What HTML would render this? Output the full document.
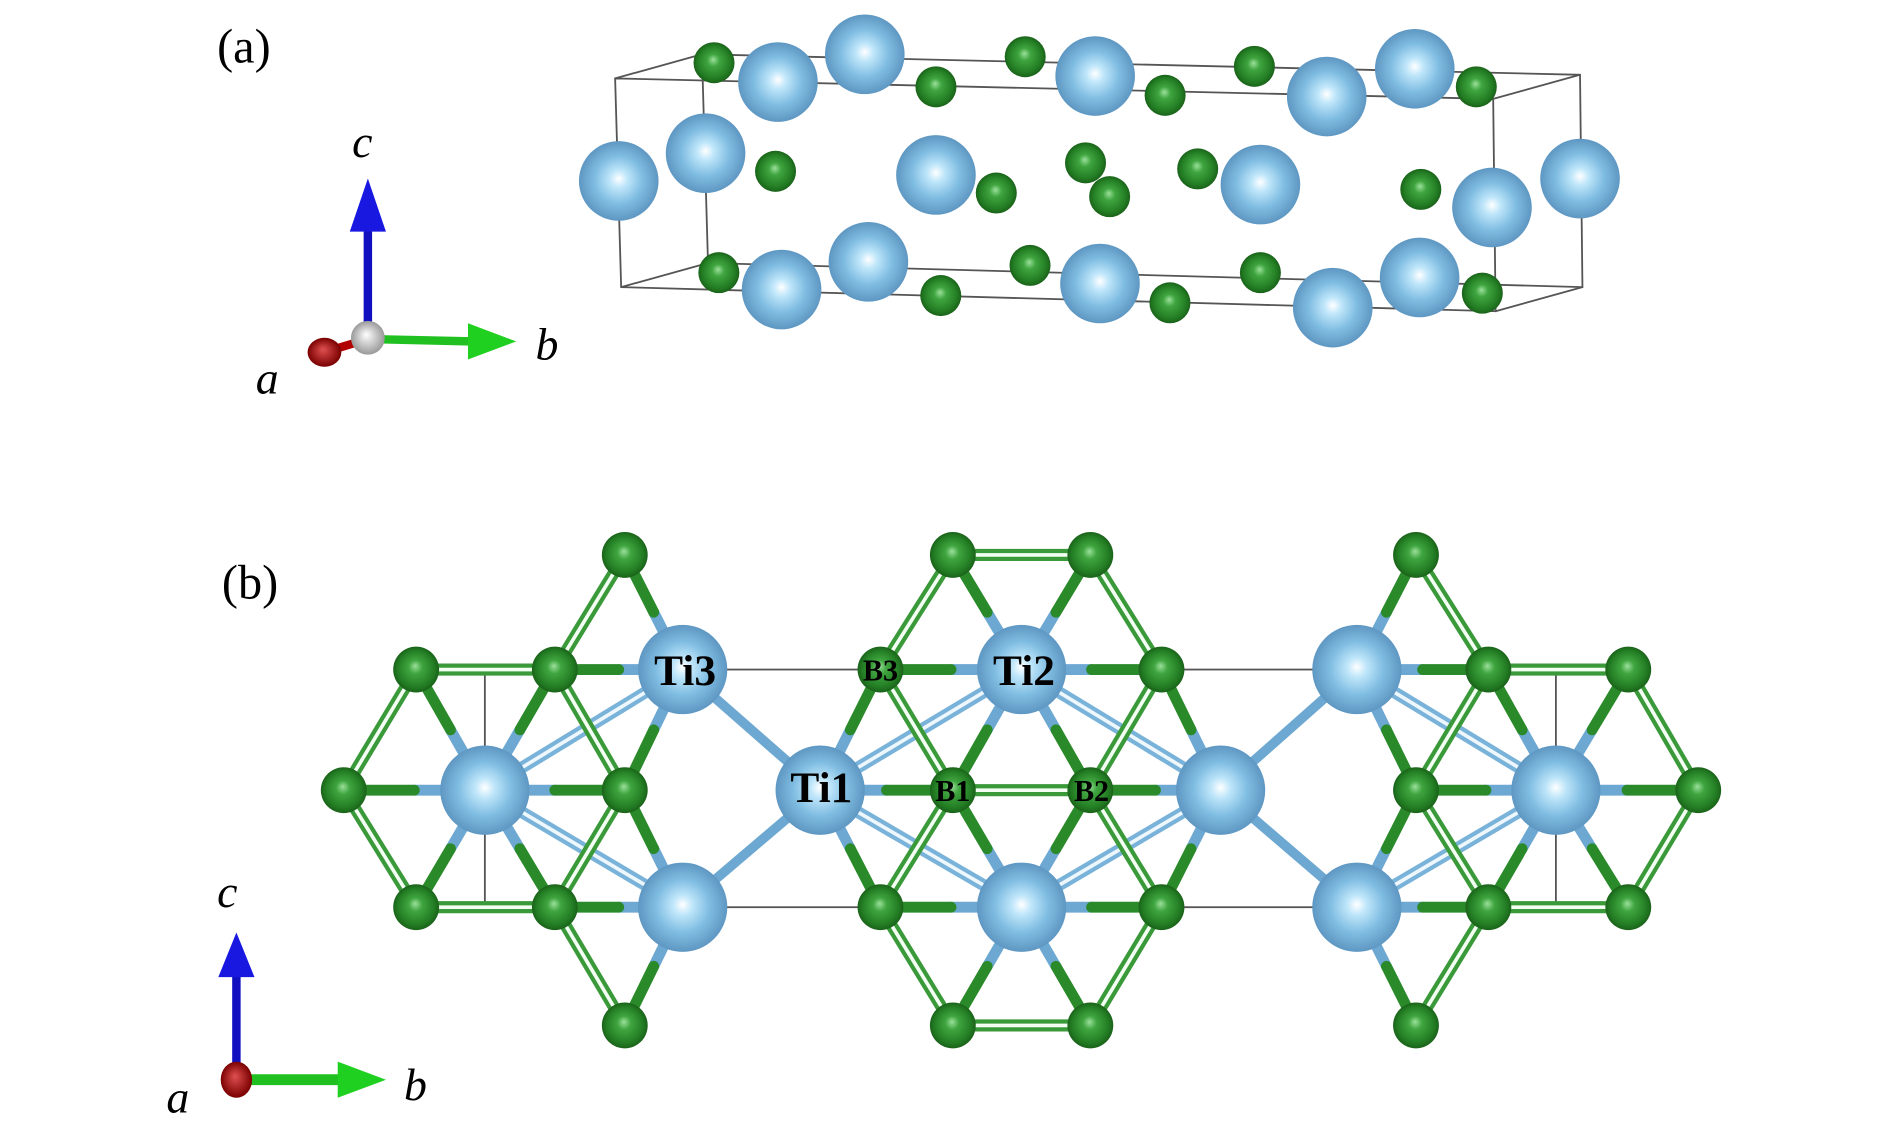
<!DOCTYPE html>
<html><head><meta charset="utf-8"><style>
html,body{margin:0;padding:0;background:#fff;}
svg{display:block}
text{font-family:"Liberation Serif",serif;}
</style></head><body>
<svg id="s" width="1890" height="1134" viewBox="0 0 1567 940" preserveAspectRatio="none" xmlns="http://www.w3.org/2000/svg">
<defs>
<radialGradient id="gb" cx="50%" cy="50%" r="50%" fx="50%" fy="47%">
<stop offset="0" stop-color="#ffffff"/><stop offset="0.22" stop-color="#bfe6fa"/><stop offset="0.6" stop-color="#80bde2"/><stop offset="1" stop-color="#5e97c2"/></radialGradient>
<radialGradient id="gg" cx="50%" cy="50%" r="50%" fx="48%" fy="42%">
<stop offset="0" stop-color="#9be09b"/><stop offset="0.3" stop-color="#3fa53f"/><stop offset="0.8" stop-color="#237d23"/><stop offset="1" stop-color="#1a621a"/></radialGradient>
<radialGradient id="gr" fx="45%" fy="40%"><stop offset="0" stop-color="#e05050"/><stop offset="1" stop-color="#7a0000"/></radialGradient>
<radialGradient id="gw" fx="45%" fy="40%"><stop offset="0" stop-color="#ffffff"/><stop offset="1" stop-color="#999"/></radialGradient>
</defs>
<g id="cell" stroke="#555" stroke-width="1.5" fill="none">
<polygon points="510,65 1238,82 1240,258 515,238"/>
<polygon points="582,45 1310,62 1312,238 587,218"/>
<line x1="510" y1="65" x2="582" y2="45"/><line x1="1238" y1="82" x2="1310" y2="62"/>
<line x1="1240" y1="258" x2="1312" y2="238"/><line x1="515" y1="238" x2="587" y2="218"/>
<rect x="402" y="555" width="888" height="197"/>
</g>
<g id="bonds"></g>
<g id="atoms"></g>
<!-- axes a -->
<line x1="305" y1="280" x2="305" y2="190" stroke="#1010c0" stroke-width="7"/>
<polygon points="290,192 320,192 305,148" fill="#1818e0"/>
<line x1="305" y1="281" x2="390" y2="283" stroke="#20c020" stroke-width="7"/>
<polygon points="388,268 388,298 428,283" fill="#20d020"/>
<line x1="305" y1="281" x2="272" y2="291" stroke="#b00000" stroke-width="7"/>
<ellipse cx="269" cy="292" rx="14" ry="12" fill="url(#gr)"/>
<circle cx="305" cy="280" r="14" fill="url(#gw)"/>
<text x="180" y="52" font-size="40">(a)</text>
<text x="292" y="130" font-size="38" font-style="italic">c</text>
<text x="444" y="298" font-size="38" font-style="italic">b</text>
<text x="212" y="326" font-size="38" font-style="italic">a</text>
<!-- axes b -->
<line x1="196" y1="895" x2="196" y2="808" stroke="#1010c0" stroke-width="7"/>
<polygon points="181,810 211,810 196,773" fill="#1818e0"/>
<line x1="196" y1="895" x2="282" y2="895" stroke="#20c020" stroke-width="9"/>
<polygon points="280,880 280,910 320,895" fill="#20d020"/>
<ellipse cx="196" cy="895" rx="13" ry="15" fill="url(#gr)"/>
<text x="184" y="496" font-size="40">(b)</text>
<text x="180" y="752" font-size="38" font-style="italic">c</text>
<text x="335" y="912" font-size="38" font-style="italic">b</text>
<text x="138" y="922" font-size="38" font-style="italic">a</text>
<g id="lbl" font-weight="bold" fill="#000" text-anchor="middle">
<text x="568" y="568" font-size="36">Ti3</text>
<text x="849" y="568" font-size="36">Ti2</text>
<text x="681" y="665" font-size="36">Ti1</text>
<text x="730" y="564" font-size="25">B3</text>
<text x="790" y="664" font-size="25">B1</text>
<text x="905" y="664" font-size="25">B2</text>
</g>
</svg>
<script>
var NS="http://www.w3.org/2000/svg";
function el(p,t,a){var e=document.createElementNS(NS,t);for(var k in a)e.setAttribute(k,a[k]);p.appendChild(e);return e;}
var B=document.getElementById("bonds"),A=document.getElementById("atoms");
var Ti=[[402,655],[566,555],[680,655],[847,555],[847,752],[566,752],[1012,655],[1125,555],[1125,752],[1290,655]];
var Bo=[[518,460],[790,460],[904,460],[1174,460],[345,555],[460,555],[730,555],[963,555],[1234,555],[1350,555],
[285,655],[518,655],[790,655],[904,655],[1174,655],[1408,655],[345,752],[460,752],[730,752],[963,752],[1234,752],[1350,752],
[518,850],[790,850],[904,850],[1174,850]];
function d(a,b){return Math.hypot(a[0]-b[0],a[1]-b[1]);}
function line(a,b,c,w){el(B,"line",{x1:a[0],y1:a[1],x2:b[0],y2:b[1],stroke:c,"stroke-width":w,"stroke-linecap":"round"});}
for(var i=0;i<Ti.length;i++)for(var j=i+1;j<Ti.length;j++){var r=d(Ti[i],Ti[j]);
 if(r>140&&r<165)line(Ti[i],Ti[j],"#6da8d2",8);
 else if(r>180&&r<195){line(Ti[i],Ti[j],"#7ab3da",10);line(Ti[i],Ti[j],"#eef7fc",3);}}
for(var i=0;i<Bo.length;i++)for(var j=i+1;j<Bo.length;j++){var r=d(Bo[i],Bo[j]);
 if(r>100&&r<125){line(Bo[i],Bo[j],"#3a9a3a",10);line(Bo[i],Bo[j],"#f4fff4",3);}}
for(var i=0;i<Ti.length;i++)for(var j=0;j<Bo.length;j++){var r=d(Ti[i],Bo[j]);
 if(r>95&&r<125){var m=[(Ti[i][0]+Bo[j][0])/2,(Ti[i][1]+Bo[j][1])/2];line(Ti[i],m,"#6da8d2",9);line(m,Bo[j],"#2a8a2a",9);}}
function atom(p,r,g){el(A,"circle",{cx:p[0],cy:p[1],r:r,fill:"url(#"+g+")"});}
Ti.forEach(function(p){atom(p,37,"gb");});
Bo.forEach(function(p){atom(p,19,"gg");});
var ab=[[513,150],[585,127],[645,68],[717,45],[776,145],[908,63],[1045,153],[1100,80],[1173,57],[1237,172],[1310,148],[648,240],[720,217],[912,235],[1105,255],[1177,230]];
var ag=[[592,52],[776,72],[850,47],[966,79],[1040,55],[1224,72],[643,142],[826,160],[900,135],[920,163],[993,140],[1178,157],[596,226],[780,245],[854,220],[970,251],[1045,226],[1229,243]];
ag.forEach(function(p){atom(p,17,"gg");});
ab.forEach(function(p){atom(p,33,"gb");});
</script>
</body></html>
